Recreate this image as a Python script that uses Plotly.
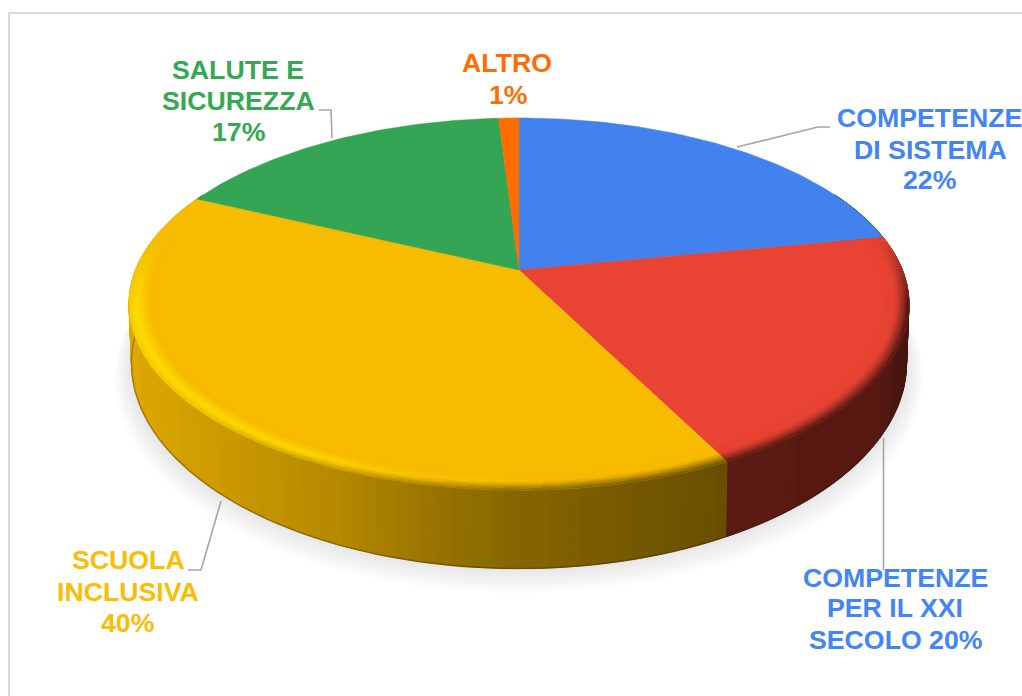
import numpy as np
import plotly.graph_objects as go

# ---- data ----
categories = ["COMPETENZE DI SISTEMA", "COMPETENZE PER IL XXI SECOLO", "SCUOLA INCLUSIVA", "SALUTE E SICUREZZA", "ALTRO"]
values = [22.0, 20.5, 39.5, 17.0, 1.0]
slice_colors = ["#4182EE", "#E84333", "#F7BB00", "#33A555", "#FF6D01"]
label_lines = [["COMPETENZE", "DI SISTEMA", "22%"],
               ["COMPETENZE", "PER IL XXI", "SECOLO 20%"],
               ["SCUOLA", "INCLUSIVA", "40%"],
               ["SALUTE E", "SICUREZZA", "17%"],
               ["ALTRO", "1%"]]
label_colors = ["#4285F4", "#4285F4", "#FBBC04", "#34A853", "#FF6D01"]

# ---- layout / style (pixel space) ----
W, H = 1022, 696
CX, CY = 519.0, 270.0
K = 0.183
A_TOP, B_TOP = 383.4, 179.9
A_BOT, B_BOT, CY_BOT = 381.0, 199.0, 325.0

label_pos = [[(929, 118), (930, 150), (930, 180)],
             [(895, 578), (895, 608), (896, 640)],
             [(128, 560), (128, 592), (128, 623)],
             [(238, 70), (238, 101), (239, 132)],
             [(507, 62.5), (508, 94.5)]]
leaders = [[(737, 147), (818, 127), (830, 127)],
           [(883.5, 438), (883.5, 570)],
           [(221, 501), (201, 570), (188, 570)],
           [(319, 110), (331, 110), (332, 138)]]

def hex_rgb(h):
    return np.array([int(h[i:i + 2], 16) for i in (1, 3, 5)], float)

def top_xy(th, r=1.0):
    u, v = np.sin(th) * r, np.cos(th) * r
    d = 1 + K * v
    return CX + A_TOP * u / d, CY - B_TOP * v / d

def bot_xy(th, r=1.0, dy=0.0):
    u, v = np.sin(th) * r, np.cos(th) * r
    d = 1 + K * v
    return CX + A_BOT * u / d, CY_BOT + dy - B_BOT * v / d

def side_factor(x, red):
    if red:
        return np.interp(x, [720, 880, 910], [0.39, 0.37, 0.30])
    return np.interp(x, [128, 200, 340, 420, 520, 725], [0.90, 0.84, 0.73, 0.63, 0.54, 0.42])

groups = {}
def add_poly(xs, ys, rgb, step=3):
    q = tuple(int(min(255, round(c / step) * step)) for c in rgb)
    g = groups.setdefault(q, ([], []))
    g[0].extend(list(xs) + [xs[0], None])
    g[1].extend(list(ys) + [ys[0], None])

def flush(fig, lw=0.7):
    for q, (xs, ys) in groups.items():
        col = "rgb(%d,%d,%d)" % q
        fig.add_trace(go.Scatter(x=xs, y=ys, mode="lines", fill="toself", fillcolor=col,
                                 line=dict(color=col, width=lw), hoverinfo="skip", showlegend=False))
    groups.clear()

fig = go.Figure()

# frame
fig.add_trace(go.Scatter(x=[9, 9, W], y=[H, 13, 13], mode="lines",
                         line=dict(color="#D9D9D9", width=2), hoverinfo="skip", showlegend=False))

# soft shadow beneath the disc
t = np.linspace(0, 2 * np.pi, 240)
for i in range(1, 13):
    sx, sy = bot_xy(t, r=1 + i * 0.0035, dy=i * 1.0)
    fig.add_trace(go.Scatter(x=sx, y=sy, mode="lines", fill="toself", fillcolor="rgba(100,100,110,0.015)",
                             line=dict(width=0), hoverinfo="skip", showlegend=False))

# leader lines
for pts in leaders:
    fig.add_trace(go.Scatter(x=[p[0] for p in pts], y=[p[1] for p in pts], mode="lines",
                             line=dict(color="#A6A6A6", width=1.6), hoverinfo="skip", showlegend=False))

# slice angles from values
cum = np.concatenate([[0.0], np.cumsum(values)]) / sum(values) * 2 * np.pi
bases = [hex_rgb(c) for c in slice_colors]

# rim side walls: an under-layer stops the background bleeding through the seams
for i in range(len(values)):
    a0, a1 = cum[i], cum[i + 1]
    ths = np.linspace(a0, a1, max(3, int((a1 - a0) / np.radians(1)) + 1))
    keep = ths[np.cos(ths) <= 0.45]
    if len(keep) > 2:
        xa, ya = top_xy(keep)
        xb, yb = bot_xy(keep[::-1])
        xm = float(np.mean(xa))
        col = bases[i] * side_factor(xm, i == 1)
        colr = "rgb(%d,%d,%d)" % tuple(col)
        fig.add_trace(go.Scatter(x=list(xa) + list(xb) + [xa[0]], y=list(ya) + list(yb) + [ya[0]], mode="lines",
                                 fill="toself", fillcolor=colr, line=dict(color=colr, width=0.5),
                                 hoverinfo="skip", showlegend=False))
for i in range(len(values)):
    a0, a1 = cum[i], cum[i + 1]
    n = max(2, int((a1 - a0) / np.radians(0.8)))
    ths = np.linspace(a0, a1, n + 1)
    for j in range(n):
        th0, th1 = ths[j], ths[j + 1]
        if np.cos((th0 + th1) / 2) > 0.45:
            continue
        x0, y0 = top_xy(th0); x1, y1 = top_xy(th1)
        x2, y2 = bot_xy(th1); x3, y3 = bot_xy(th0)
        f = side_factor((x0 + x1) / 2, i == 1)
        add_poly([x0, x1, x2, x3], [y0, y1, y2, y3], bases[i] * f)
flush(fig, 1.0)

# darker line along the foot of the wall
fx, fy = bot_xy(np.linspace(np.radians(100), np.radians(268), 160))
fig.add_trace(go.Scatter(x=fx, y=fy, mode="lines", line=dict(color="rgba(50,30,0,0.30)", width=1.6),
                         hoverinfo="skip", showlegend=False))

# top face wedges
for i in range(len(values)):
    ths = np.linspace(cum[i], cum[i + 1], max(3, int((cum[i + 1] - cum[i]) / np.radians(1)) + 1))
    xs, ys = top_xy(ths)
    fig.add_trace(go.Scatter(x=[CX] + list(xs) + [CX], y=[CY] + list(ys) + [CY], mode="lines", fill="toself",
                             fillcolor=slice_colors[i], line=dict(color=slice_colors[i], width=0.5),
                             hoverinfo="skip", showlegend=False))

# bevel on the rim of the top face
BRIGHT = np.array([255, 219, 0], float)
RS = np.linspace(0.94, 1.0, 13)
for i in range(len(values)):
    a0, a1 = cum[i], cum[i + 1]
    n = max(2, int((a1 - a0) / np.radians(1.5)))
    ths = np.linspace(a0, a1, n + 1)
    is_yellow, is_red = i == 2, i == 1
    if not (is_yellow or is_red):
        continue
    for j in range(n):
        thm = (ths[j] + ths[j + 1]) / 2
        v = np.cos(thm)
        bf = np.clip((0.2 - v) / 0.4, 0, 1)
        if bf <= 0:
            continue
        xm, _ = top_xy(thm)
        h = (np.interp(xm, [130, 300, 450, 600], [0.95, 0.8, 0.3, 0]) if is_yellow else 0.0) * bf
        dark = np.interp(xm, [130, 300, 500], [0.3, 0.75, 1.0]) * bf
        start = 0.4 + 0.3 * h
        side = bases[i] * side_factor(xm, is_red)
        for m in range(len(RS) - 1):
            s = (m + 0.5) / (len(RS) - 1)
            c = bases[i] + (BRIGHT - bases[i]) * h * np.clip((s - 0.15) / 0.5, 0, 1)
            if s > start:
                c = c + (side - c) * dark * ((s - start) / (1 - start)) ** 1.2
            xa, ya = top_xy(np.array([ths[j], ths[j + 1]]), RS[m])
            xb, yb = top_xy(np.array([ths[j + 1], ths[j]]), RS[m + 1])
            add_poly(list(xa) + list(xb), list(ya) + list(yb), c)
flush(fig, 0.6)

# labels
annots = []
for lines, poss, col in zip(label_lines, label_pos, label_colors):
    for line, (x, y) in zip(lines, poss):
        annots.append(dict(x=x, y=y, text="<b>" + line + "</b>", showarrow=False, xanchor="center", yanchor="middle",
                           font=dict(family="Liberation Sans, Arial, sans-serif", size=26.7, color=col)))

fig.update_layout(width=W, height=H, margin=dict(l=0, r=0, t=0, b=0), paper_bgcolor="white",
                  plot_bgcolor="white", showlegend=False, annotations=annots,
                  xaxis=dict(range=[0, W], visible=False, fixedrange=True),
                  yaxis=dict(range=[H, 0], visible=False, fixedrange=True))
fig.write_html("out.html", config=dict(displayModeBar=False),
               post_script="document.body.style.margin='0';document.documentElement.style.overflow='hidden';")
